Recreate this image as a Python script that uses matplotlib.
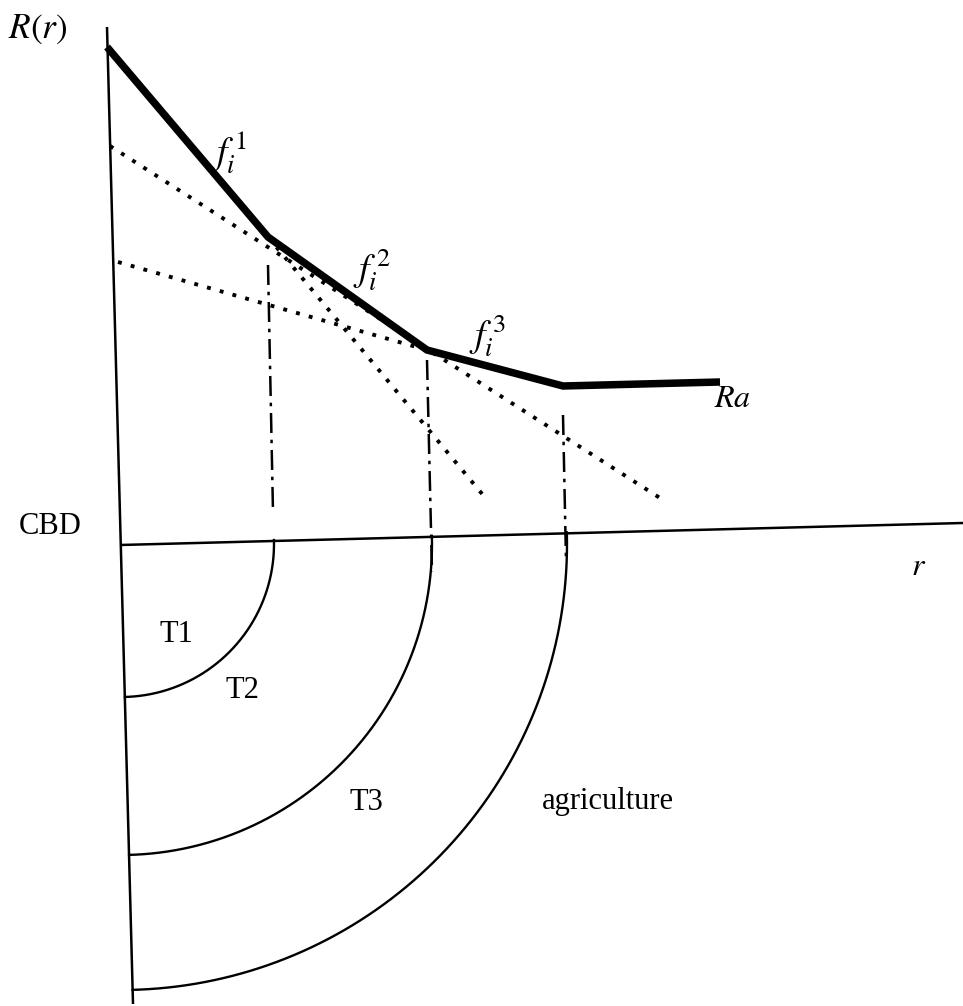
import numpy as np
import matplotlib
matplotlib.use("Agg")
import matplotlib.pyplot as plt

plt.rcParams['mathtext.fontset'] = 'stix'
plt.rcParams['font.family'] = ['Liberation Serif', 'DejaVu Serif']

# ---- data (diagram coordinates, pixel-like units, y downward) ----
rent_x = [107, 268, 427, 563, 720]          # bid-rent envelope R(r)
rent_y = [47, 237, 350, 386, 382]

# dotted extensions of the bid-rent segments
ext_f2_x = [110, 660]; ext_f2_y = [146, 498]
ext_f1_x = [268, 483]; ext_f1_y = [237, 495]
ext_f3_x = [118, 427]; ext_f3_y = [262, 350]

# vertical dash-dot markers at the zone boundaries
bound_x_top = [268, 427, 563]
bound_y_top = [265, 360, 415]
bound_x_bot = [273, 432, 566]
bound_y_bot = [512, 572, 560]

# axes
vaxis_x = [107, 133]; vaxis_y = [27, 1004]
haxis_x = [120, 963]; haxis_y = [545, 523]

# zone rings (quarter circles around the CBD)
ring_center = (121, 544)
ring_radii = [153, 311, 446]
ring_tilt = 0.026

zone_labels = ["T1", "T2", "T3", "agriculture"]
zone_lx = [176, 242, 366, 608]
zone_ly = [635, 690, 803, 802]

fig = plt.figure(figsize=(9.63, 10.06), dpi=100)
ax = fig.add_axes([0, 0, 1, 1])
ax.set_xlim(0, 963)
ax.set_ylim(1006, 0)
ax.axis('off')

# axes lines
ax.plot(vaxis_x, vaxis_y, color='black', lw=1.8, solid_capstyle='butt')
ax.plot(haxis_x, haxis_y, color='black', lw=1.8, solid_capstyle='butt')

# dotted extensions
dot = (0, (1, 2.4))
for xs, ys in [(ext_f2_x, ext_f2_y), (ext_f1_x, ext_f1_y), (ext_f3_x, ext_f3_y)]:
    ax.plot(xs, ys, color='black', lw=2.8, linestyle=dot, dash_capstyle='butt')

# dash-dot boundaries
dd = (0, (8, 2.7, 1.4, 2.7))
for x0, y0, x1, y1 in zip(bound_x_top, bound_y_top, bound_x_bot, bound_y_bot):
    ax.plot([x0, x1], [y0, y1], color='black', lw=1.8, linestyle=dd)

# rent envelope
ax.plot(rent_x, rent_y, color='black', lw=5.4, solid_joinstyle='miter',
        solid_capstyle='butt')

# rings
t = np.linspace(-ring_tilt, np.pi / 2 - ring_tilt, 300)
for r in ring_radii:
    ax.plot(ring_center[0] + r * np.cos(t), ring_center[1] + r * np.sin(t),
            color='black', lw=1.7)

# labels
ax.text(8, 29, r'$R(r)$', fontsize=25.5, ha='left', va='center')
ax.text(229, 153, r'$f_i^{\,1}$', fontsize=27, ha='center', va='center')
ax.text(372, 270, r'$f_i^{\,2}$', fontsize=27, ha='center', va='center')
ax.text(487, 336, r'$f_i^{\,3}$', fontsize=27, ha='center', va='center')
ax.text(714, 407, r'$Ra$', fontsize=23, ha='left', va='baseline')
ax.text(919, 575, r'$r$', fontsize=23, ha='center', va='baseline')
ax.text(50, 534, 'CBD', fontsize=22, ha='center', va='baseline')
for s, x, y in zip(zone_labels, zone_lx, zone_ly):
    ax.text(x, y, s, fontsize=22, ha='center', va='center')

fig.savefig('out.png', dpi=100)
